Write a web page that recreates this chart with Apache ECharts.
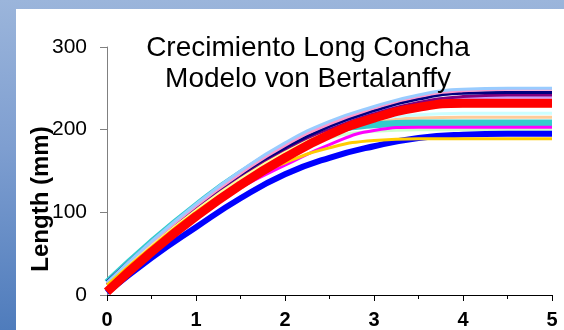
<!DOCTYPE html>
<html>
<head>
<meta charset="utf-8">
<script src="https://cdn.jsdelivr.net/npm/echarts@6/dist/echarts.min.js"></script>
<style>
html,body{margin:0;padding:0;}
#bg{position:absolute;left:0;top:0;width:564px;height:330px;background:linear-gradient(to bottom,#9BB5DB 0%,#7E9ED0 45%,#4F7CBC 100%);}
#chart{position:absolute;left:16px;top:9px;width:548px;height:321px;background:#fff;}
</style>
</head>
<body>
<div id="bg"></div>
<div id="chart"></div>
<script>
// Ages (years)
const times = [0, 0.5, 1, 1.5, 2, 2.5, 3, 3.5, 4, 4.5, 5];
// Length (mm) per individual curve
const lightGreen  = [12, 60, 103, 140, 170, 190, 198, 200, 200, 200, 200];
const lightOrange = [13, 62, 105, 142, 172, 195, 208, 214, 215, 215, 215];
const lightCyan   = [14, 63, 107, 144, 175, 198, 212, 218, 220, 220, 220];
const teal        = [15, 64, 108, 147, 178, 197, 206, 208, 208, 208, 208];
const lavender    = [12, 60, 104, 142, 176, 203, 221, 232, 238, 239, 239];
const purple      = [13, 61, 105, 143, 175, 200, 219, 233, 240, 242, 242];
const navy        = [16, 64, 108, 146, 178, 204, 223, 237, 244, 245, 245];
const pink        = [14, 63, 108, 147, 181, 207, 226, 240, 247, 249, 249];
const lightBlue   = [15, 65, 110, 150, 184, 210, 228, 242, 249, 250, 250];
const lightYellow = [12, 60, 103, 141, 173, 198, 215, 225, 228, 228, 228];
const magenta     = [8, 55, 97, 130, 157, 182, 199, 203, 203, 203, 203];
const blue        = [3, 45, 82, 117, 146, 166, 180, 190, 194, 195, 195];
const gold        = [12, 58, 100, 135, 160, 178, 187, 189, 189, 189, 189];
const red         = [4, 52, 95, 133, 166, 194, 214, 227, 232, 232, 232];
const yTicks = [0, 100, 200, 300];
const xTicks = [0, 1, 2, 3, 4, 5];
const titleText = 'Crecimiento Long Concha\nModelo von Bertalanffy';
const yName = 'Length (mm)';

const pairs = arr => arr.map((v, i) => [times[i], v]);
function mk(name, arr, color, width) {
  return {
    name: name, type: 'line', data: pairs(arr), smooth: true,
    showSymbol: false, symbol: 'none',
    lineStyle: { color: color, width: width }, itemStyle: { color: color }
  };
}

const chart = echarts.init(document.getElementById('chart'), null, { renderer: 'canvas' });
chart.setOption({
  animation: false,
  backgroundColor: '#ffffff',
  title: {
    text: titleText, left: 287, top: 19, textAlign: 'center',
    textStyle: { fontFamily: 'Liberation Sans, Arial, sans-serif', fontSize: 28, fontWeight: 'normal', color: '#000', lineHeight: 31 }
  },
  graphic: [{
    type: 'text', x: 25, y: 190, rotation: Math.PI / 2,
    style: { text: yName, fontFamily: 'Liberation Sans, Arial, sans-serif', fontSize: 24, fontWeight: 'bold', fill: '#000', textAlign: 'center', textVerticalAlign: 'middle' },
    z: 100
  }],
  grid: { left: 91, right: 12, top: 38, bottom: 34, containLabel: false },
  xAxis: {
    type: 'value', min: xTicks[0], max: xTicks[xTicks.length - 1], interval: 1,
    axisLine: { show: true, lineStyle: { color: '#000', width: 1 } },
    axisTick: { show: true, length: 6, lineStyle: { color: '#000' } },
    minorTick: { show: true, splitNumber: 2, length: 4, lineStyle: { color: '#000' } },
    splitLine: { show: false },
    axisLabel: { margin: 15, fontFamily: 'Liberation Sans, Arial, sans-serif', fontSize: 20, fontWeight: 'bold', color: '#000' }
  },
  yAxis: {
    type: 'value', min: yTicks[0], max: yTicks[yTicks.length - 1], interval: 100,
    axisLine: { show: true, lineStyle: { color: '#808080', width: 1 } },
    axisTick: { show: true, length: 7, lineStyle: { color: '#808080' } },
    splitLine: { show: false },
    axisLabel: { margin: 20, fontFamily: 'Liberation Sans, Arial, sans-serif', fontSize: 21, color: '#000' }
  },
  series: [
    mk('A', lightGreen, '#CCFFCC', 3),
    mk('B', lightOrange, '#FFCC99', 3),
    mk('C', lightCyan, '#CCFFFF', 3),
    mk('D', teal, '#33CCCC', 7),
    mk('E', lavender, '#CC99FF', 2.5),
    mk('F', purple, '#800080', 3),
    mk('G', navy, '#000080', 3),
    mk('H', pink, '#FF99CC', 3),
    mk('I', lightBlue, '#99CCFF', 3),
    mk('J', lightYellow, '#FFFF99', 2),
    mk('K', magenta, '#FF00FF', 3),
    mk('L', blue, '#0000FF', 6),
    mk('M', gold, '#FFCC00', 3),
    mk('N', red, '#FF0000', 9)
  ]
});
</script>
</body>
</html>
